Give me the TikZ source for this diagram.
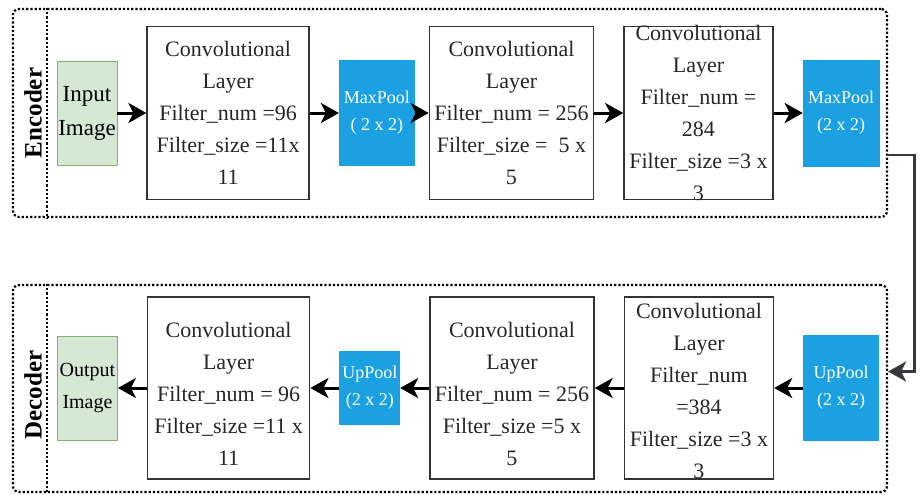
\documentclass[tikz,border=0pt]{standalone}
\usepackage{fontspec}
\setmainfont{Liberation Serif}
\usetikzlibrary{arrows.meta,positioning}
\definecolor{imgfill}{HTML}{D5E8D4}
\definecolor{imgdraw}{HTML}{82B366}
\definecolor{poolblue}{HTML}{1BA1E2}
\definecolor{linkgray}{HTML}{36393D}

\begin{document}
\begin{tikzpicture}[node distance=14.5pt,>={Stealth[length=9pt,width=10pt,inset=2.5pt]},
  group/.style={draw=black,densely dotted,line width=1.1pt,rounded corners=3pt,minimum width=437pt,inner sep=0pt},
  tag/.style={rotate=90,font=\fontsize{12.5}{12.5}\selectfont\bfseries},
  img/.style={draw=imgdraw,fill=imgfill,minimum width=30pt,minimum height=52pt,inner sep=0pt,align=center},
  conv/.style={draw=black!80,line width=.75pt,inner sep=0pt},
  ctext/.style={align=center,font=\fontsize{11}{16}\selectfont,text=black!85},
  pool/.style={draw=poolblue,fill=poolblue,text=white,inner sep=0pt,align=center,
  font=\fontsize{9}{13.5}\selectfont},
  flow/.style={->,line width=1.5pt}]
\useasboundingbox (0,0) rectangle (460pt,-247pt);
\node[group,minimum height=104pt] (enc) at (225pt,-56.5pt) {};
\node[group,minimum height=103.5pt] (dec) at (225pt,-194.25pt) {};
\draw[densely dotted,line width=1.1pt] ([xshift=17.5pt]enc.north west) -- ([xshift=17.5pt]enc.south west);
\draw[densely dotted,line width=1.1pt] ([xshift=17.5pt]dec.north west) -- ([xshift=17.5pt]dec.south west);
\node[tag] (enct) at (16.5pt,-56.5pt) {Encoder};
\node[tag] (dect) at (16.5pt,-197.5pt) {Decoder};

\node[img,font=\fontsize{11.5}{17}\selectfont] (in) at (43.5pt,-56.5pt) {Input\\Image};
\node[conv,minimum width=81pt,minimum height=86.5pt,right=of in] (c1) {};
\node[pool,minimum width=37.5pt,minimum height=52.5pt,right=of c1] (mp1) {MaxPool\\( 2 x 2)};
\node[conv,minimum width=82pt,minimum height=86.5pt,right=7pt of mp1] (c2) {};
\node[conv,minimum width=74.5pt,minimum height=86.5pt,right=of c2] (c3) {};
\node[pool,minimum width=38pt,minimum height=53pt,right=of c3] (mp2) {MaxPool\\(2 x 2)};
\node[ctext] (c1t) at (c1) {Convolutional\\Layer\\Filter\_num =96\\Filter\_size =11x\\11};
\node[ctext] (c2t) at (c2) {Convolutional\\Layer\\Filter\_num = 256\\Filter\_size = \ 5 x\\5};
\node[ctext] (c3t) at (c3) {Convolutional\\Layer\\Filter\_num =\\284\\Filter\_size =3 x\\3};

\node[img,font=\fontsize{10}{16}\selectfont] (out) at (43.75pt,-194pt) {Output\\Image};
\node[conv,minimum width=81pt,minimum height=91pt,right=of out] (c4) {};
\node[pool,minimum width=30pt,minimum height=36.5pt,right=of c4] (up1) {UpPool\\(2 x 2)};
\node[conv,minimum width=82pt,minimum height=91pt,right=of up1] (c5) {};
\node[conv,minimum width=74.5pt,minimum height=91pt,right=of c5] (c6) {};
\node[pool,minimum width=37.5pt,minimum height=52.5pt,right=of c6] (up2) {UpPool\\(2 x 2)};
\node[ctext,yshift=-3pt] (c4t) at (c4) {Convolutional\\Layer\\Filter\_num = 96\\Filter\_size =11 x\\11};
\node[ctext,yshift=-3pt] (c5t) at (c5) {Convolutional\\Layer\\Filter\_num = 256\\Filter\_size =5 x\\5};
\node[ctext,yshift=-1.5pt] (c6t) at (c6) {Convolutional\\Layer\\Filter\_num\\=384\\Filter\_size =3 x\\3};

\foreach \a/\b in {in/c1,c1/mp1,mp1/c2,c2/c3,c3/mp2,up2/c6,c6/c5,c5/up1,up1/c4,c4/out} \draw[flow] (\a)--(\b);
\draw[flow,draw=linkgray,line width=1.4pt] ([yshift=-21pt]enc.east) -- ++(13pt,0) |- ([yshift=8.5pt]dec.east);
\end{tikzpicture}
\end{document}
